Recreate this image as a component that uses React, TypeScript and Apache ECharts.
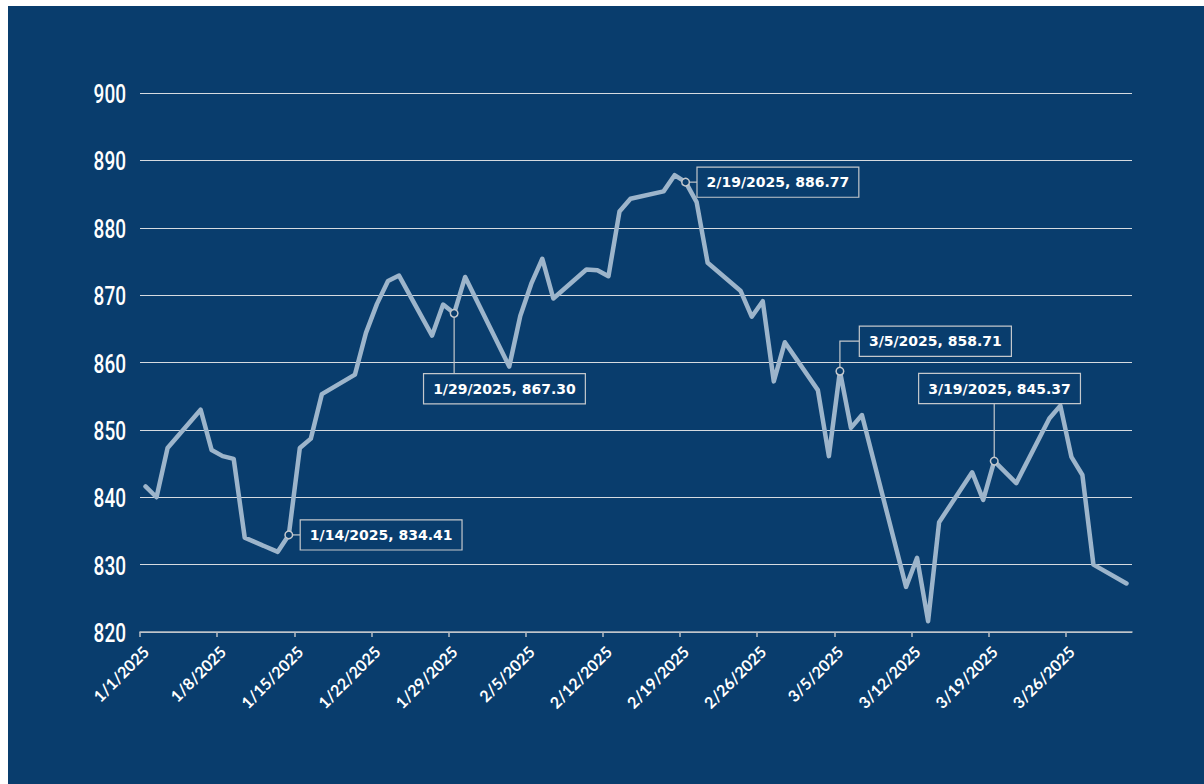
import React, { useEffect, useRef } from "react";
import * as echarts from "echarts";

const dates: string[] = [
  "1/1", "1/2", "1/3", "1/6", "1/7", "1/8", "1/9", "1/10", "1/13", "1/14", "1/15", "1/16", "1/17",
  "1/20", "1/21", "1/22", "1/23", "1/24", "1/27", "1/28", "1/29", "1/30", "2/3", "2/4", "2/5", "2/6",
  "2/7", "2/10", "2/11", "2/12", "2/13", "2/14", "2/17", "2/18", "2/19", "2/20", "2/21", "2/24",
  "2/25", "2/26", "2/27", "2/28", "3/3", "3/4", "3/5", "3/6", "3/7", "3/11", "3/12", "3/13", "3/14",
  "3/17", "3/18", "3/19", "3/21", "3/24", "3/25", "3/26", "3/27", "3/28", "3/31",
];

const values: number[] = [
  841.6, 840.0, 847.3, 853.0, 847.0, 846.1, 845.7, 834.0, 831.9, 834.41, 847.3, 848.7, 855.3,
  858.2, 864.4, 868.7, 872.1, 872.9, 864.0, 868.6, 867.3, 872.7, 859.4, 866.9, 871.7, 875.4,
  869.5, 873.8, 873.7, 872.8, 882.4, 884.3, 885.4, 887.8, 886.77, 883.8, 874.8, 870.6,
  866.8, 869.1, 857.2, 863.0, 855.9, 846.1, 858.71, 850.3, 852.2, 826.7, 831.0, 821.6, 836.3,
  843.7, 839.6, 845.37, 842.1, 851.7, 853.6, 846.0, 843.3, 830.0, 827.2,
];

const tickLabels: string[] = [
  "1/1/2025", "1/8/2025", "1/15/2025", "1/22/2025", "1/29/2025", "2/5/2025", "2/12/2025",
  "2/19/2025", "2/26/2025", "3/5/2025", "3/12/2025", "3/19/2025", "3/26/2025",
];

const yTickLabels: string[] = ["820", "830", "840", "850", "860", "870", "880", "890", "900"];

const annotatedDates: string[] = ["1/14", "1/29", "2/19", "3/5", "3/19"];
const annotationPlacement: string[] = ["right", "below", "right", "upRight", "above"];

const yMin = 820;
const yMax = 900;
const yStep = 10;
const xEndDate = "4/1";

const BG = "#093d6d";
const LINE = "#9db5cb";
const BOX = "#c4c8cc";

function toDay(md: string): number {
  const [m, d] = md.split("/").map((s) => parseInt(s, 10));
  return (Date.UTC(2025, m - 1, d) - Date.UTC(2025, 0, 1)) / 86400000;
}
function dayLabel(v: number): string {
  const dt = new Date(Date.UTC(2025, 0, 1) + Math.round(v) * 86400000);
  return `${dt.getUTCMonth() + 1}/${dt.getUTCDate()}/2025`;
}

export default function App() {
  const ref = useRef<HTMLDivElement>(null);
  useEffect(() => {
    if (!ref.current) return;
    const chart = echarts.init(ref.current, undefined, { renderer: "svg" });
    const seriesData = dates.map((d, i) => [toDay(d) + 0.5, values[i]]);
    const tickValues = tickLabels.map((t) => toDay(t.split("/").slice(0, 2).join("/")));
    chart.setOption({
      animation: false,
      backgroundColor: BG,
      grid: { left: 132, right: 72, top: 87, bottom: 152, containLabel: false },
      xAxis: {
        type: "value",
        min: 0,
        max: toDay(xEndDate),
        interval: 7,
        axisLine: { show: true, lineStyle: { color: "#b9bec4", width: 1.5 } },
        axisTick: { show: true, length: 5, lineStyle: { color: "#b9bec4", width: 1.5 }, customValues: tickValues },
        splitLine: { show: false },
        axisLabel: {
          customValues: tickValues,
          rotate: 45,
          margin: 11,
          verticalAlign: "top",
          color: "#ffffff",
          fontFamily: "Lato, 'Open Sans', sans-serif",
          fontWeight: "bold",
          fontSize: 16,
          formatter: (v: number) => dayLabel(v),
        },
      },
      yAxis: {
        type: "value",
        min: yMin,
        max: yMax,
        interval: yStep,
        axisLine: { show: false },
        axisTick: { show: false },
        splitLine: { show: true, lineStyle: { color: "#d6dbe0", width: 1.2 } },
        axisLabel: { show: false },
      },
      series: [
        {
          type: "line",
          data: seriesData,
          showSymbol: false,
          symbol: "none",
          lineStyle: { color: LINE, width: 4.5, join: "round", cap: "round" },
          z: 3,
        },
      ],
    });

    const graphics: any[] = [];
    // condensed y-axis labels
    yTickLabels.forEach((lab) => {
      const [ax, ay] = chart.convertToPixel({ gridIndex: 0 } as any, [0, parseFloat(lab)]) as number[];
      graphics.push({
        type: "text",
        z: 50,
        x: ax - 14,
        y: ay + 1,
        scaleX: 0.76,
        style: {
          text: lab,
          font: "500 25px Roboto, 'DejaVu Sans', sans-serif",
          fill: "#ffffff",
          align: "right",
          verticalAlign: "middle",
        },
      });
    });

    const font = "bold 14px 'DejaVu Sans', Verdana, sans-serif";
    annotatedDates.forEach((d, k) => {
      const idx = dates.indexOf(d);
      const v = values[idx];
      const [px, py] = chart.convertToPixel({ seriesIndex: 0 }, [toDay(d) + 0.5, v]) as number[];
      const text = `${d}/2025, ${v.toFixed(2)}`;
      const place = annotationPlacement[k];
      let tx = 0, ty = 0, va = "middle";
      const lineStyle = { stroke: BOX, lineWidth: 1.2 };
      if (place === "right") {
        tx = px + 12; ty = py; va = "middle";
        graphics.push({ type: "line", z: 100, shape: { x1: px + 4, y1: py, x2: tx, y2: py }, style: lineStyle });
      } else if (place === "below") {
        tx = px - 30; ty = py + 61; va = "top";
        graphics.push({ type: "line", z: 100, shape: { x1: px, y1: py + 4, x2: px, y2: ty }, style: lineStyle });
      } else if (place === "upRight") {
        tx = px + 20; ty = py - 30; va = "middle";
        graphics.push({ type: "polyline", z: 100, shape: { points: [[px, py - 4], [px, ty], [tx, ty]] }, style: { ...lineStyle, fill: null } });
      } else if (place === "above") {
        tx = px - 75; ty = py - 58; va = "bottom";
        graphics.push({ type: "line", z: 100, shape: { x1: px, y1: py - 4, x2: px, y2: ty }, style: lineStyle });
      }
      graphics.push({
        type: "circle",
        z: 101,
        shape: { cx: px, cy: py, r: 3.8 },
        style: { fill: BG, stroke: BOX, lineWidth: 1.5 },
      });
      graphics.push({
        type: "text",
        z: 102,
        x: tx,
        y: ty,
        style: {
          text,
          font,
          fill: "#ffffff",
          align: "left",
          verticalAlign: va,
          lineHeight: 17,
          padding: [6, 9, 6, 9],
          backgroundColor: BG,
          borderColor: BOX,
          borderWidth: 1.2,
        },
      });
    });
    chart.setOption({ graphic: graphics });

    return () => chart.dispose();
  }, []);

  return (
    <div
      ref={ref}
      style={{ position: "fixed", left: 8, top: 6, width: 1196, height: 778 }}
    />
  );
}
